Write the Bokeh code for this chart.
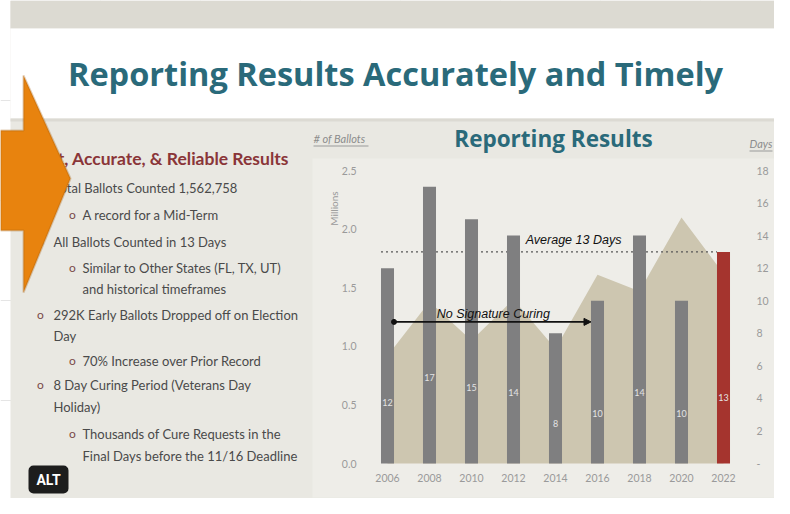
from math import pi

from bokeh.plotting import figure
from bokeh.models import (Range1d, LinearAxis, FixedTicker, Label, BoxAnnotation,
                          PolyAnnotation, Arrow, NormalHead, NumeralTickFormatter,
                          CustomJSTickFormatter, ColumnDataSource)
from bokeh.core.properties import value
from bokeh.embed import file_html
from bokeh.resources import INLINE

# ------------------------------------------------------------------ data
years = ["2006", "2008", "2010", "2012", "2014", "2016", "2018", "2020", "2022"]
days_to_count = [12, 17, 15, 14, 8, 10, 14, 10, 13]
ballots_millions = [0.92, 1.38, 1.05, 1.40, 0.98, 1.61, 1.47, 2.10, 1.62]
average_days = 13
highlight_year = "2022"
no_curing_from = "2006"
no_curing_to = "2016"
ballot_ticks = [0.0, 0.5, 1.0, 1.5, 2.0, 2.5]
day_ticks = [0, 2, 4, 6, 8, 10, 12, 14, 16, 18]

slide_title = "Reporting Results Accurately and Timely"
chart_title = "Reporting Results"
left_axis_title = "# of Ballots"
right_axis_title = "Days"
left_axis_unit = "Millions"
average_text = "Average 13 Days"
curing_text = "No Signature Curing"
heading_text = "Fast, Accurate, & Reliable Results"
bullet_lines = [
    (1, True, "Total Ballots Counted 1,562,758"),
    (2, True, "A record for a Mid-Term"),
    (1, True, "All Ballots Counted in 13 Days"),
    (2, True, "Similar to Other States (FL, TX, UT)"),
    (2, False, "and historical timeframes"),
    (1, True, "292K Early Ballots Dropped off on Election"),
    (1, False, "Day"),
    (2, True, "70% Increase over Prior Record"),
    (1, True, "8 Day Curing Period (Veterans Day"),
    (1, False, "Holiday)"),
    (2, True, "Thousands of Cure Requests in the"),
    (2, False, "Final Days before the 11/16 Deadline"),
]

# ------------------------------------------------------------------ style / layout
W, H = 774, 498
TEAL = "#2a6a7a"
BODY = "#e9e8e2"
CHART_BG = "#eeede8"
BAND = "#dcdad2"
AREA = "#cdc6b0"
BAR = "#7f7f80"
RED = "#a5342e"
TEXT = "#4a4a4a"
HEAD_RED = "#8a3538"
TICK = "#9a9a9a"

# plot area of the chart (canvas pixels)
FR_L, FR_R, FR_T, FR_B = 366, 744, 170, 463

p = figure(width=W, height=H, x_range=Range1d(0, W), y_range=Range1d(H, 0),
           x_axis_location=None, y_axis_location=None, title=None,
           output_backend="svg", toolbar_location=None, min_border=0)
p.outline_line_color = None
p.background_fill_color = "#ffffff"
p.border_fill_color = "#ffffff"

n = len(years)
ppc = (FR_R - FR_L) / n
p.extra_x_ranges = {"yr": Range1d(-FR_L / ppc, n + (W - FR_R) / ppc)}
dmax = day_ticks[-1]
ppd = (FR_B - FR_T) / dmax
bmax = ballot_ticks[-1]
ppb = (FR_B - FR_T) / bmax
p.extra_y_ranges = {
    "days": Range1d(-(H - FR_B) / ppd, dmax + FR_T / ppd),
    "ballots": Range1d(-(H - FR_B) / ppb, bmax + FR_T / ppb),
}
CH = dict(x_range_name="yr", y_range_name="days")


def rect(l, r, t, b, color):
    p.quad(left=l, right=r, top=t, bottom=b, fill_color=color, line_color=None)


# slide background
rect(10, 800, 0, 520, BODY)
rect(10, 800, 0, 28, BAND)
rect(10, 800, 28, 118, "#ffffff")
rect(10, 800, 118, 121, "#dcdad3")
rect(312, 800, 158, 497, CHART_BG)

# ------------------------------------------------------------------ chart glyphs
BAR_W = 0.31
xs = [i + 0.5 for i in range(n)]
bar_colors = [RED if y == highlight_year else BAR for y in years]
src = ColumnDataSource(dict(
    x=xs, year=years, days=days_to_count, ballots=ballots_millions, color=bar_colors,
    label=[str(d) for d in days_to_count],
    label_y=[d * 0.31 for d in days_to_count],
))

p.varea(x="x", y1=0, y2="ballots", source=src, fill_color=AREA,
        x_range_name="yr", y_range_name="ballots")

i_hi = years.index(highlight_year)
p.segment(x0=xs[0] - BAR_W / 2, x1=xs[i_hi] - BAR_W / 2,
          y0=average_days, y1=average_days,
          line_color="#555555", line_width=1.2, line_dash="2 3", **CH)

p.vbar(x="x", top="days", width=BAR_W, source=src, fill_color="color",
       line_color=None, **CH)
p.text(x="x", y="label_y", text="label", source=src,
       text_font=value("Lato"), text_font_size="9px", text_color="#e4e4e4",
       text_align="center", text_baseline="middle", **CH)

a0 = xs[years.index(no_curing_from)] + BAR_W / 2
a1 = xs[years.index(no_curing_to)] - BAR_W / 2
ARROW_Y = 8.7
p.add_layout(Arrow(x_start=a0, y_start=ARROW_Y, x_end=a1, y_end=ARROW_Y,
                   line_color="#111111", line_width=1.6,
                   end=NormalHead(size=7, fill_color="#111111", line_color="#111111"),
                   **CH))
p.scatter(x=[a0], y=[ARROW_Y], size=5, color="#111111", **CH)

p.add_layout(Label(x=4.93, y=average_days + 0.7, text=average_text,
                   text_font="Liberation Sans", text_font_style="italic",
                   text_font_size="12.5px", text_color="#111111",
                   text_align="center", text_baseline="middle", **CH))
p.add_layout(Label(x=3.02, y=ARROW_Y + 0.5, text=curing_text,
                   text_font="Liberation Sans", text_font_style="italic",
                   text_font_size="12.5px", text_color="#111111",
                   text_align="center", text_baseline="middle", **CH))

# ------------------------------------------------------------------ axes (fixed at the chart frame)
xaxis = LinearAxis(x_range_name="yr", y_range_name="days", fixed_location=0,
                   ticker=FixedTicker(ticks=xs),
                   formatter=CustomJSTickFormatter(args=dict(years=years),
                                                   code="return years[Math.floor(tick)] || ''"))
xaxis.major_label_standoff = 10
p.add_layout(xaxis, "below")

laxis = LinearAxis(x_range_name="yr", y_range_name="ballots", fixed_location=0,
                   ticker=FixedTicker(ticks=ballot_ticks),
                   formatter=NumeralTickFormatter(format="0.0"))
laxis.major_label_standoff = 10
p.add_layout(laxis, "left")

raxis = LinearAxis(x_range_name="yr", y_range_name="days", fixed_location=n,
                   ticker=FixedTicker(ticks=day_ticks))
raxis.major_label_overrides = {0: "-"}
raxis.major_label_standoff = 12
p.add_layout(raxis, "right")

for ax in (xaxis, laxis, raxis):
    ax.axis_line_color = None
    ax.major_tick_line_color = None
    ax.minor_tick_line_color = None
    ax.major_tick_out = 0
    ax.major_tick_in = 0
    ax.major_label_text_font = "Lato"
    ax.major_label_text_font_size = "10.5px"
    ax.major_label_text_color = TICK


# ------------------------------------------------------------------ texts
def label(x, y, text, **kw):
    opts = dict(x=x, y=y, text=text, text_baseline="middle")
    opts.update(kw)
    lb = Label(**opts)
    p.add_layout(lb)
    return lb


def hline(x0, x1, y, color):
    p.add_layout(BoxAnnotation(left=x0, right=x1, top=y, bottom=y + 1,
                               fill_color=color, fill_alpha=1, line_color=None))


label(395, 73, slide_title, text_align="center", text_font="Open Sans",
      text_font_style="bold", text_font_size="32.5px", text_color=TEAL)
label(553, 138, chart_title, text_align="center", text_font="Open Sans",
      text_font_style="bold", text_font_size="22.5px", text_color=TEAL)

label(313, 138, left_axis_title, text_font="Lato", text_font_style="italic",
      text_font_size="11px", text_color="#8c8c8c")
hline(313, 368, 145, "#9a9a9a")
label(749, 143, right_axis_title, text_font="Lato", text_font_style="italic",
      text_font_size="11px", text_color="#8c8c8c")
hline(749, 772, 150, "#9a9a9a")
label(333, 208, left_axis_unit, text_align="center", angle=pi / 2,
      text_font="Lato", text_font_size="10px", text_color=TICK)

label(32, 158, heading_text, text_font="Lato", text_font_style="bold",
      text_font_size="17.5px", text_color=HEAD_RED)

line_y = [187, 214, 241, 267, 288, 314, 335, 360, 384, 406, 433, 455]
for (lvl, has_bullet, txt), yy in zip(bullet_lines, line_y):
    bx_ = 40 if lvl == 1 else 72
    tx_ = 53 if lvl == 1 else 82
    if has_bullet:
        label(bx_, yy, "o", text_align="center", text_font="Lato",
              text_font_size="12px", text_color="#7a4a4a")
    label(tx_, yy, txt, text_font="Lato", text_font_size="13px", text_color=TEXT)

# orange arrow overlay
ax_img = [0, 23, 23, 70, 23, 23, 0]
ay_img = [130, 130, 75, 178, 292, 230, 230]
p.add_layout(PolyAnnotation(xs=ax_img, ys=ay_img,
                            fill_color="#e8830e", fill_alpha=1,
                            line_color="#a35c10", line_width=2))

# ALT badge
p.add_layout(BoxAnnotation(left=28, right=68, top=465, bottom=493,
                           fill_color="#1d1d1d", fill_alpha=1, line_color=None,
                           border_radius=5))
label(48, 479, "ALT", text_align="center", text_font="Roboto",
      text_font_style="bold", text_font_size="14px", text_color="#ffffff")

open("out.html", "w").write(file_html(p, INLINE))
